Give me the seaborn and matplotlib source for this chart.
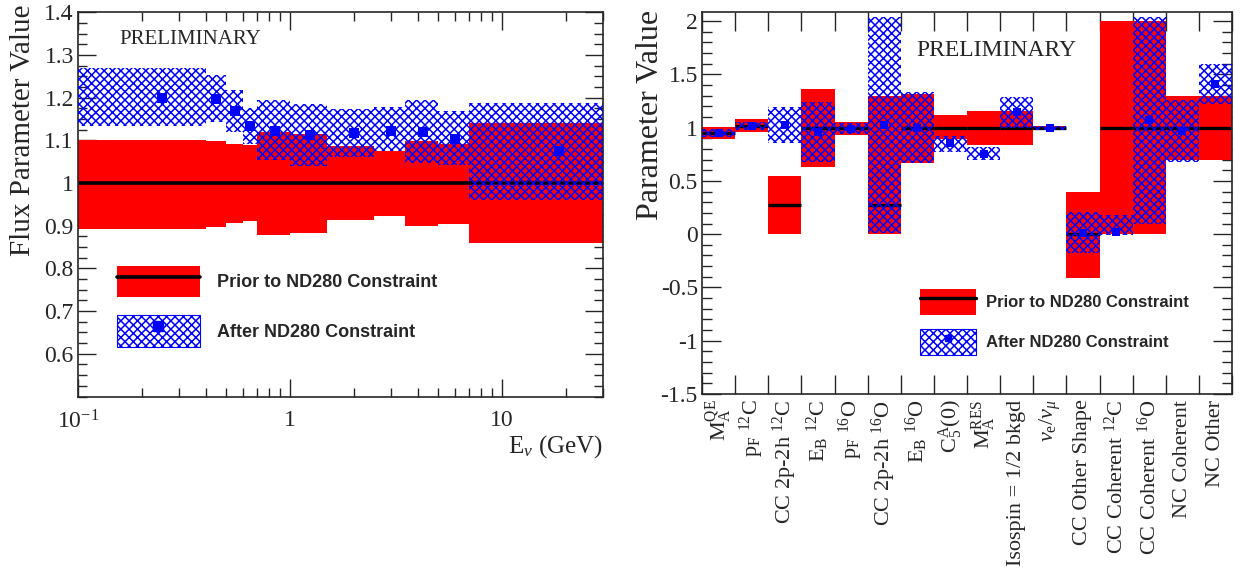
import numpy as np
import matplotlib
matplotlib.use('Agg')
import matplotlib.pyplot as plt
import seaborn as sns
from matplotlib.patches import Patch
from matplotlib.lines import Line2D
from matplotlib.legend_handler import HandlerTuple
from matplotlib.ticker import FixedLocator, NullFormatter, MultipleLocator, FixedFormatter

# ---------------- Left panel data (flux parameters) ----------------
flux_edges = [0.1, 0.4, 0.5, 0.6, 0.7, 1.0, 1.5, 2.5, 3.5, 5.0, 7.0, 30.0]
flux_prior_center = [1.0, 1.0, 1.0, 1.0, 1.0, 1.0, 1.0, 1.0, 1.0, 1.0, 1.0]
flux_prior_lo = [0.893, 0.897, 0.906, 0.912, 0.879, 0.883, 0.913, 0.922, 0.900, 0.904, 0.859]
flux_prior_hi = [1.102, 1.098, 1.091, 1.088, 1.119, 1.115, 1.086, 1.074, 1.098, 1.092, 1.141]
flux_post_center = [1.200, 1.197, 1.168, 1.134, 1.123, 1.113, 1.117, 1.123, 1.120, 1.103, 1.074]
flux_post_lo = [1.134, 1.142, 1.119, 1.092, 1.055, 1.041, 1.060, 1.074, 1.047, 1.043, 0.961]
flux_post_hi = [1.270, 1.254, 1.217, 1.176, 1.194, 1.186, 1.174, 1.177, 1.194, 1.168, 1.188]
flux_yticks = [0.6, 0.7, 0.8, 0.9, 1.0, 1.1, 1.2, 1.3, 1.4]
flux_ytick_labels = ['0.6', '0.7', '0.8', '0.9', '1', '1.1', '1.2', '1.3', '1.4']
flux_xticks = [0.1, 1, 10]
flux_xtick_labels = [r'10$^{-1}$', '1', '10']

# ---------------- Right panel data (cross-section parameters) ----------------
xsec_labels = [r'M$_{\rm A}^{\rm QE}$', r'p$_{\rm F}$ $^{12}$C', r'CC 2p-2h $^{12}$C',
               r'E$_{\rm B}$ $^{12}$C', r'p$_{\rm F}$ $^{16}$O', r'CC 2p-2h $^{16}$O',
               r'E$_{\rm B}$ $^{16}$O', r'C$_{5}^{\rm A}$(0)', r'M$_{\rm A}^{\rm RES}$',
               'Isospin = 1/2 bkgd', r'$\nu_{\rm e}/\nu_{\mu}$', 'CC Other Shape',
               r'CC Coherent $^{12}$C', r'CC Coherent $^{16}$O', 'NC Coherent', 'NC Other']
xsec_prior_center = [0.95, 1.02, 0.27, 1.0, 1.0, 0.27, 1.0, 1.0, 1.0, 1.0, 1.0, 0.0, 1.0, 1.0, 1.0, 1.0]
xsec_prior_lo = [0.89, 0.962, 0.0, 0.633, 0.93, 0.0, 0.666, 0.89, 0.84, 0.84, 0.98, -0.41, 0.0, 0.0, 0.70, 0.70]
xsec_prior_hi = [1.01, 1.077, 0.55, 1.359, 1.05, 1.30, 1.32, 1.12, 1.16, 1.16, 1.02, 0.40, 2.0, 2.0, 1.30, 1.30]
xsec_post_center = [0.95, 1.016, 1.025, 0.96, 0.99, 1.025, 1.0, 0.86, 0.75, 1.145, 1.0, 0.015, 0.02, 1.07, 0.97, 1.41]
xsec_post_lo = [0.915, 0.977, 0.853, 0.68, 0.94, 0.01, 0.67, 0.775, 0.70, 1.0, 0.975, -0.18, -0.01, 0.10, 0.675, 1.22]
xsec_post_hi = [0.987, 1.055, 1.196, 1.243, 1.04, 2.04, 1.33, 0.92, 0.815, 1.29, 1.02, 0.21, 0.18, 2.04, 1.26, 1.60]
xsec_yticks = [-1.5, -1.0, -0.5, 0.0, 0.5, 1.0, 1.5, 2.0]
xsec_ytick_labels = ['-1.5', '-1', '-0.5', '0', '0.5', '1', '1.5', '2']

legend_prior = 'Prior to ND280 Constraint'
legend_post = 'After ND280 Constraint'

RED = '#ff0000'
BLUE = '#0000ff'

sns.set_style('ticks')
plt.rcParams['font.family'] = ['Liberation Serif', 'DejaVu Serif']
plt.rcParams['mathtext.fontset'] = 'custom'
plt.rcParams['mathtext.rm'] = 'Liberation Serif'
plt.rcParams['mathtext.it'] = 'Liberation Serif:italic'
plt.rcParams['mathtext.bf'] = 'Liberation Serif:bold'
plt.rcParams['hatch.linewidth'] = 1.1
plt.rcParams['hatch.color'] = BLUE

fig = plt.figure(figsize=(12.48, 5.70), dpi=100)
axL = fig.add_axes([78 / 1248, 1 - 396.5 / 570, 525 / 1248, 384.2 / 570])
axR = fig.add_axes([702 / 1248, 1 - 394 / 570, 530 / 1248, 382.5 / 570])

# ================= LEFT PANEL =================
edges = np.array(flux_edges)
left = edges[:-1]
width = np.diff(edges)
centers = 0.5 * (edges[:-1] + edges[1:])
axL.set_xscale('log')
p_lo = np.array(flux_prior_lo); p_hi = np.array(flux_prior_hi)
axL.bar(left, p_hi - p_lo, width=width, bottom=p_lo, align='edge', color=RED,
        edgecolor='none', linewidth=0, zorder=1)
axL.hlines(flux_prior_center, edges[:-1], edges[1:], color='black', linewidth=2.6, zorder=2)
q_lo = np.array(flux_post_lo); q_hi = np.array(flux_post_hi)
axL.bar(left, q_hi - q_lo, width=width, bottom=q_lo, align='edge', facecolor='none',
        edgecolor=BLUE, hatch='xxxx', linewidth=0, zorder=3)
sns.scatterplot(x=centers, y=flux_post_center, marker='s', color=BLUE, edgecolor=BLUE,
                s=45, linewidth=0, ax=axL, zorder=5, legend=False)

axL.set_xlim(0.1, 30)
axL.set_ylim(0.5, 1.4)
axL.xaxis.set_major_locator(FixedLocator(flux_xticks))
axL.xaxis.set_major_formatter(FixedFormatter(flux_xtick_labels))
minor_x = [v * d for d in (0.1, 1, 10) for v in range(2, 10) if v * d <= 30]
axL.xaxis.set_minor_locator(FixedLocator(minor_x))
axL.xaxis.set_minor_formatter(NullFormatter())
axL.yaxis.set_major_locator(FixedLocator(flux_yticks))
axL.yaxis.set_major_formatter(FixedFormatter(flux_ytick_labels))
axL.yaxis.set_minor_locator(MultipleLocator(0.025))
axL.tick_params(axis='both', which='major', direction='in', length=13, width=1.0,
                top=True, right=True, labelsize=17)
axL.tick_params(axis='both', which='minor', direction='in', length=6.5, width=1.0,
                top=True, right=True)
axL.tick_params(axis='x', which='major', pad=10)
axL.tick_params(axis='y', which='major', pad=3)
for s in axL.spines.values():
    s.set_linewidth(1.2)
    s.set_visible(True)
axL.set_xlabel('')
axL.set_ylabel('')
axL.text(1.0, -0.095, r'E$_{\nu}$ (GeV)', transform=axL.transAxes, ha='right', va='top', fontsize=18)
fig.text(23 / 1248, 1 - 5 / 570, 'Flux Parameter Value', rotation=90, ha='center', va='top', fontsize=21)
axL.text(0.078, 0.93, 'PRELIMINARY', transform=axL.transAxes, ha='left', va='center', fontsize=15)

hL = [(Patch(facecolor=RED, edgecolor='none'), Line2D([], [], color='black', lw=2.6)),
      (Patch(facecolor='none', edgecolor=BLUE, hatch='xxxx', linewidth=0.8),
       Line2D([], [], marker='s', color=BLUE, linestyle='none', markersize=7))]
legL = axL.legend(hL, [legend_prior, legend_post],
                  handler_map={tuple: HandlerTuple(ndivide=1, pad=0)},
                  loc='upper left', bbox_to_anchor=(0.074, 0.34), frameon=False,
                  prop={'family': 'Liberation Sans', 'weight': 'bold', 'size': 13},
                  handlelength=4.6, handleheight=2.3, labelspacing=1.0, handletextpad=0.95,
                  borderpad=0, borderaxespad=0)

# ================= RIGHT PANEL =================
n = len(xsec_labels)
xl = np.arange(n)
r_lo = np.array(xsec_prior_lo); r_hi = np.array(xsec_prior_hi)
axR.bar(xl, r_hi - r_lo, width=1.0, bottom=r_lo, align='edge', color=RED,
        edgecolor='none', linewidth=0, zorder=1)
axR.hlines(xsec_prior_center, xl, xl + 1, color='black', linewidth=2.4, zorder=2)
b_lo = np.array(xsec_post_lo); b_hi = np.array(xsec_post_hi)
axR.bar(xl, b_hi - b_lo, width=1.0, bottom=b_lo, align='edge', facecolor='none',
        edgecolor=BLUE, hatch='xxxx', linewidth=0, zorder=3)
sns.scatterplot(x=xl + 0.5, y=xsec_post_center, marker='s', color=BLUE, edgecolor=BLUE,
                s=36, linewidth=0, ax=axR, zorder=5, legend=False)
axR.set_xlim(0, n)
axR.set_ylim(-1.5, 2.09)
axR.xaxis.set_major_locator(FixedLocator(np.arange(n + 1)))
axR.xaxis.set_major_formatter(NullFormatter())
axR.xaxis.set_minor_locator(FixedLocator(xl + 0.5))
axR.xaxis.set_minor_formatter(FixedFormatter(xsec_labels))
axR.yaxis.set_major_locator(FixedLocator(xsec_yticks))
axR.yaxis.set_major_formatter(FixedFormatter(xsec_ytick_labels))
axR.yaxis.set_minor_locator(MultipleLocator(0.1))
axR.tick_params(axis='x', which='major', direction='in', length=14, width=1.0, top=True)
axR.tick_params(axis='x', which='minor', length=0, labelsize=16, rotation=90, pad=4)
axR.tick_params(axis='y', which='major', direction='in', length=14, width=1.0, right=True,
                labelsize=17, pad=3)
axR.tick_params(axis='y', which='minor', direction='in', length=7, width=1.0, right=True)
for lab in axR.xaxis.get_minorticklabels():
    lab.set_va('top')
    lab.set_ha('center')
for s in axR.spines.values():
    s.set_linewidth(1.2)
    s.set_visible(True)
axR.set_xlabel('')
axR.set_ylabel('')
fig.text(650 / 1248, 1 - 10 / 570, 'Parameter Value', rotation=90, ha='center', va='top', fontsize=23)
axR.text(0.405, 0.899, 'PRELIMINARY', transform=axR.transAxes, ha='left', va='center', fontsize=17)

hR = [(Patch(facecolor=RED, edgecolor='none'), Line2D([], [], color='black', lw=2.4)),
      (Patch(facecolor='none', edgecolor=BLUE, hatch='xxxx', linewidth=0.8),
       Line2D([], [], marker='s', color=BLUE, linestyle='none', markersize=5))]
legR = axR.legend(hR, [legend_prior, legend_post],
                  handler_map={tuple: HandlerTuple(ndivide=1, pad=0)},
                  loc='upper left', bbox_to_anchor=(0.411, 0.2745), frameon=False,
                  prop={'family': 'Liberation Sans', 'weight': 'bold', 'size': 12},
                  handlelength=3.35, handleheight=2.0, labelspacing=0.84, handletextpad=0.6,
                  borderpad=0, borderaxespad=0)

fig.savefig('out.png', dpi=100)
